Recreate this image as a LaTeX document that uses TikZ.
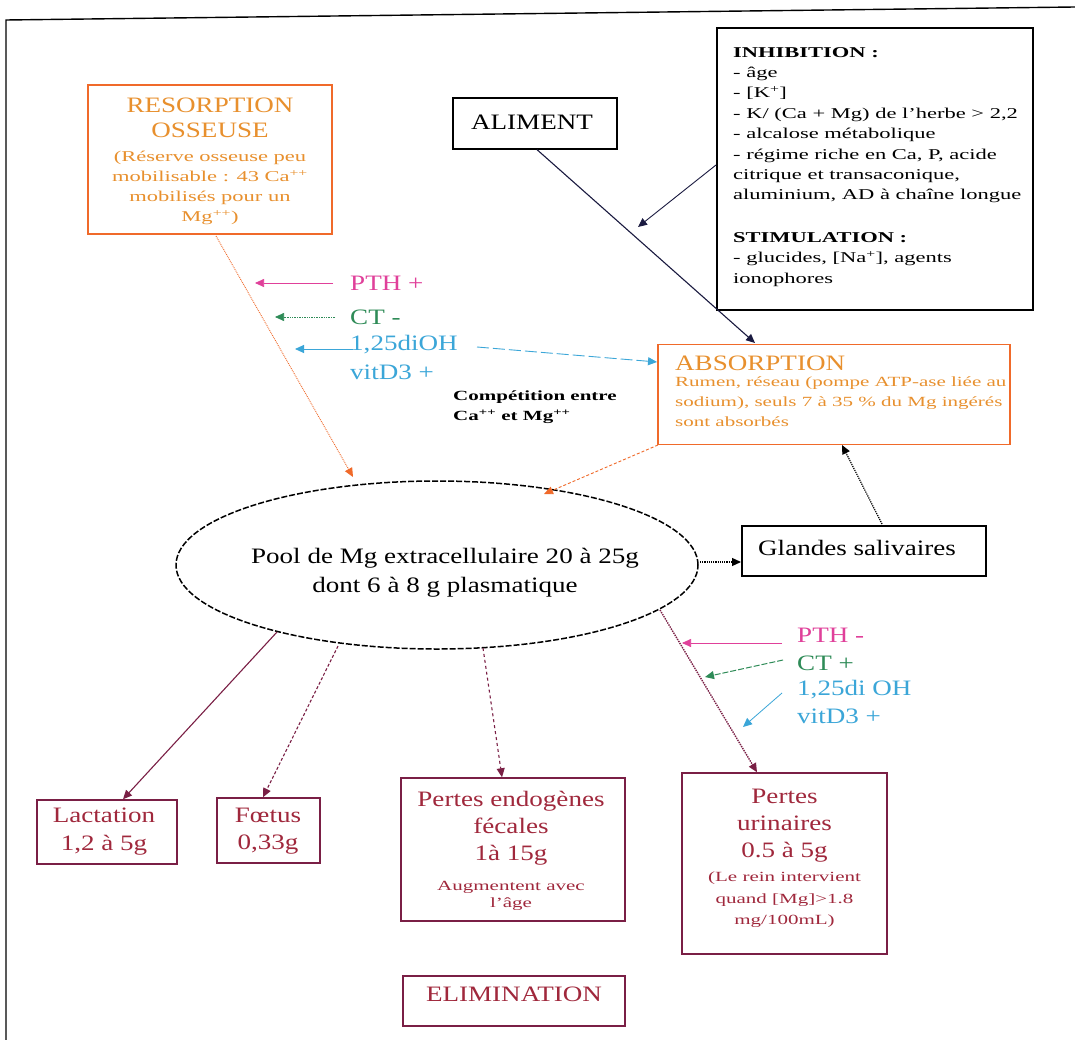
\documentclass[tikz,border=0pt]{standalone}
\usepackage{fontspec}
\setmainfont{Liberation Serif}[FakeStretch=1.23]
\newfontfamily\smallserif{Liberation Serif}[FakeStretch=1.5]
\usetikzlibrary{arrows.meta,shapes.geometric}
\definecolor{bonecol}{HTML}{F06A2A}
\definecolor{bonetxt}{HTML}{E8902E}
\definecolor{lossred}{HTML}{7A1F45}
\definecolor{losstxt}{HTML}{A0283C}
\definecolor{pthcol}{HTML}{E0409A}
\definecolor{ctcol}{HTML}{2E8B57}
\definecolor{vitcol}{HTML}{3BA6D8}
\definecolor{navy}{HTML}{1A1A40}
\tikzset{
  tip/.style={-{Triangle[length=9pt,width=8pt]}},
  plainbox/.style={draw=black,line width=1.3pt,inner sep=0pt},
  orangebox/.style={draw=bonecol,line width=1.3pt,inner sep=0pt},
  lossbox/.style={draw=lossred,line width=1.5pt,inner sep=0pt},
  txt/.style={inner sep=0pt,align=center},
  lbl/.style={inner sep=0pt,align=left,anchor=west},
  big/.style={font=\fontsize{22}{27}\selectfont},
  small/.style={font=\smallserif\fontsize{15}{20}\selectfont},
}
\begin{document}
\begin{tikzpicture}[x=1pt,y=-1pt]
\useasboundingbox (0,0) rectangle (1075,1040);
\fill[white] (0,0) rectangle (1075,1040);
% outer frame
\draw[line width=1.4pt] (6,1040) -- (6,20) -- (1075,7);

% ---------- sources ----------
\node[orangebox,minimum width=244,minimum height=149] (reso) at (210,159.5) {};
\node[txt,text=bonetxt,font=\fontsize{22}{25}\selectfont] (resotitle) at (210,117.5)
  {RESORPTION\\OSSEUSE};
\node[txt,text=bonetxt,small] (resonote) at (210,188)
  {(Réserve osseuse peu\\mobilisable : 43 Ca\textsuperscript{++}\\mobilisés pour un\\Mg\textsuperscript{++})};

\node[plainbox,minimum width=164,minimum height=51] (alim) at (535,123.5) {};
\node[txt,big] (alimtxt) at (532,122) {ALIMENT};

\node[draw=black,line width=1.9pt,minimum width=316,minimum height=282,inner sep=0pt] (inhib) at (875,169) {};
\node[lbl,anchor=north west,font=\smallserif\fontsize{15}{20.4}\selectfont] (inhibtxt) at (733,47)
  {\textbf{INHIBITION :}\\
   - âge\\
   - [K\textsuperscript{+}]\\
   - K/ (Ca + Mg) de l’herbe > 2,2\\
   - alcalose métabolique\\
   - régime riche en Ca, P, acide\\
   citrique et transaconique,\\
   aluminium, AD à chaîne longue\\[22pt]
   \textbf{STIMULATION :}\\
   - glucides, [Na\textsuperscript{+}], agents\\
   ionophores};

\node[orangebox,minimum width=352,minimum height=100] (abso) at (834,394.5) {};
\node[lbl,text=bonetxt,big] (absotitle) at (675,363) {ABSORPTION};
\node[lbl,text=bonetxt,font=\smallserif\fontsize{14}{20}\selectfont] (absonote) at (675,402)
  {Rumen, réseau (pompe ATP-ase liée au\\
   sodium), seuls 7 à 35 \% du Mg ingérés\\
   sont absorbés};

% ---------- central pool ----------
\node[draw=black,dash pattern=on 6pt off 2pt,line width=1.5pt,ellipse,
      minimum width=522,minimum height=168,inner sep=0pt] (pool) at (437,565) {};
\node[txt,font=\fontsize{22}{29}\selectfont] (pooltxt) at (445,572.5)
  {Pool de Mg extracellulaire 20 à 25g\\dont 6 à 8 g plasmatique};
\node[plainbox,minimum width=244,minimum height=50] (gland) at (864,551) {};
\node[txt,big] (glandtxt) at (857,548) {Glandes salivaires};

% ---------- regulation of bone resorption ----------
\node[lbl,text=pthcol,big] (pth1) at (350,283) {PTH +};
\node[lbl,text=ctcol,big] (ct1) at (350,317) {CT -};
\node[lbl,text=vitcol,big] (vit1a) at (350,345) {1,25diOH};
\node[lbl,text=vitcol,big] (vit1b) at (350,372) {vitD3 +};
\node[lbl,font=\smallserif\fontsize{14}{20}\selectfont\bfseries] (compet) at (453,407)
  {Compétition entre\\Ca\textsuperscript{++} et Mg\textsuperscript{++}};
\coordinate (pthS) at (333,283);
\coordinate (pthL) at (255,283);
\coordinate (ctS) at (335,317);
\coordinate (ctL) at (275,317);
\coordinate (vitS) at (353,349);
\coordinate (vitL) at (295,349);
\coordinate (vitE) at (477,347);
\coordinate (absoIn) at (657,362);
\draw[tip,pthcol,line width=0.7pt] (pthS) -- (pthL);
\draw[tip,ctcol,line width=0.7pt,densely dotted] (ctS) -- (ctL);
\draw[tip,vitcol,line width=0.9pt] (vitS) -- (vitL);
\draw[tip,vitcol,line width=0.9pt,dash pattern=on 12pt off 4pt] (vitE) -- (absoIn);

% ---------- flows into and out of the pool ----------
\coordinate (resoOut) at (216,236);
\coordinate (poolTopL) at (353,477);
\coordinate (absoOut) at (658,445);
\coordinate (poolTopR) at (544,494);
\coordinate (absoTop) at (755,343);
\coordinate (inhibOut) at (716,165);
\coordinate (alimMid) at (638,227);
\coordinate (glandOut) at (882,524);
\coordinate (absoBot) at (842,445);
\coordinate (poolR) at (700,562);
\coordinate (glandIn) at (741,562);
\draw[tip,bonecol,line width=0.9pt,densely dotted] (resoOut) -- (poolTopL);
\draw[tip,bonecol,line width=0.9pt,densely dashed] (absoOut) -- (poolTopR);
\draw[tip,navy,line width=1.1pt] (alim.south) ++(2,0) -- (absoTop);
\draw[tip,navy,line width=0.9pt] (inhibOut) -- (alimMid);
\draw[tip,black,line width=1.2pt,densely dotted] (glandOut) -- (absoBot);
\draw[tip,black,line width=1.2pt,densely dotted] (poolR) -- (glandIn);

% ---------- losses ----------
\node[lossbox,minimum width=140,minimum height=64] (lact) at (107,832) {};
\node[txt,text=losstxt,font=\fontsize{22}{28}\selectfont] (lacttxt) at (104,832) {Lactation\\1,2 à 5g};
\node[lossbox,minimum width=103,minimum height=65] (foet) at (268.5,830.5) {};
\node[txt,text=losstxt,font=\fontsize{22}{27}\selectfont] (foettxt) at (268,831.5) {Fœtus\\0,33g};
\node[lossbox,minimum width=224,minimum height=143] (endo) at (513,849.5) {};
\node[txt,text=losstxt,big] (endotxt) at (511,828) {Pertes endogènes\\fécales\\1à 15g};
\node[txt,text=losstxt,font=\smallserif\fontsize{14}{17}\selectfont] (endonote) at (511,895.5) {Augmentent avec\\l’âge};
\node[lossbox,minimum width=205,minimum height=181] (urin) at (784.5,863.5) {};
\node[txt,text=losstxt,big] (urintxt) at (784.5,825.5) {Pertes\\urinaires\\0.5 à 5g};
\node[txt,text=losstxt,font=\smallserif\fontsize{14}{21.5}\selectfont] (urinnote) at (784.5,900)
  {(Le rein intervient\\quand [Mg]>1.8\\mg/100mL)};
\node[lossbox,minimum width=222,minimum height=50,anchor=north] (elim) at (514,975) {};
\node[txt,text=losstxt,big] (elimtxt) at (514,994) {ELIMINATION};

\coordinate (lactOut) at (277,632);
\coordinate (foetOut) at (338,646);
\coordinate (endoOut) at (483,648);
\coordinate (urinOut) at (660,610);
\draw[tip,lossred,line width=1.1pt] (lactOut) -- (lact.north -| 123,0);
\draw[tip,lossred,line width=1.1pt,densely dashed] (foetOut) -- (foet.north -| 263,0);
\draw[tip,lossred,line width=1.1pt,dashed] (endoOut) -- (endo.north -| 502,0);
\draw[tip,lossred,line width=1.4pt,densely dotted] (urinOut) -- (urin.north -| 757,0);

% ---------- regulation of urinary losses ----------
\node[lbl,text=pthcol,big] (pth2) at (797,635) {PTH -};
\node[lbl,text=ctcol,big] (ct2) at (797,663) {CT +};
\node[lbl,text=vitcol,big] (vit2a) at (797,690) {1,25di OH};
\node[lbl,text=vitcol,big] (vit2b) at (797,716) {vitD3 +};
\coordinate (pthRS) at (782,643);
\coordinate (pthR) at (682,643);
\coordinate (ctRS) at (783,660);
\coordinate (ctR) at (705,677);
\coordinate (vitRS) at (782,693);
\coordinate (vitR) at (743,727);
\draw[tip,pthcol,line width=0.7pt] (pthRS) -- (pthR);
\draw[tip,ctcol,line width=1pt,dash pattern=on 6pt off 2pt] (ctRS) -- (ctR);
\draw[tip,vitcol,line width=0.8pt] (vitRS) -- (vitR);
\end{tikzpicture}
\end{document}
